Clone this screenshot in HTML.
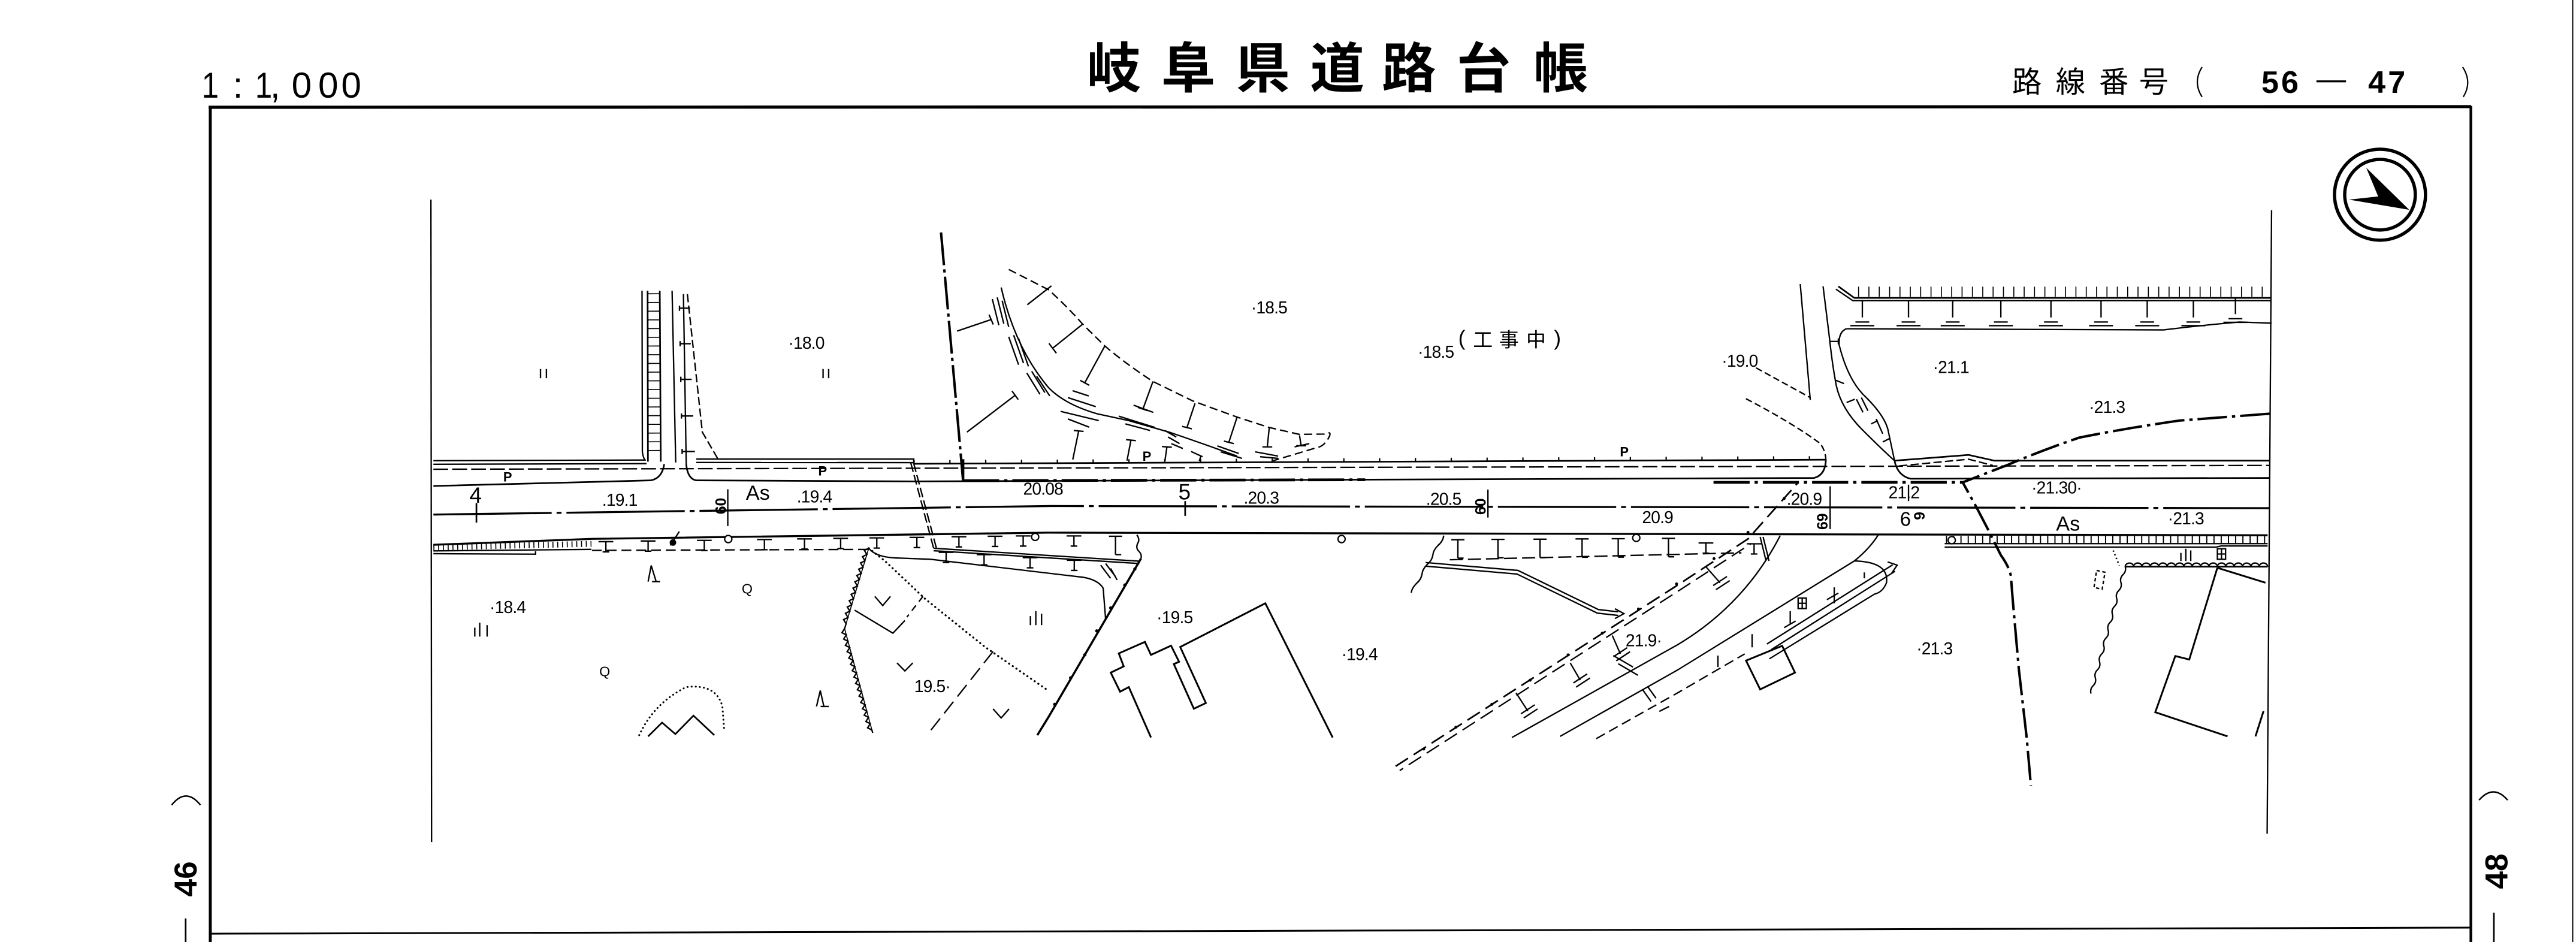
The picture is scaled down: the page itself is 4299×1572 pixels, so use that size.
<!DOCTYPE html>
<html><head><meta charset="utf-8">
<style>
html,body{margin:0;padding:0;background:#fff;}
svg{display:block;}
text{font-family:"Liberation Sans","Noto Sans CJK JP",sans-serif;fill:#000;stroke:none;}
.cjk{font-family:"Noto Sans CJK JP","Noto Sans CJK SC",sans-serif;}
</style></head><body>
<svg width="4299" height="1572" viewBox="0 0 1568 573.36" preserveAspectRatio="none" xmlns="http://www.w3.org/2000/svg">
<defs>
<path id="tk" d="M-4.5,0H4.5M0,0V6.2M-2,6.2H2"/>
<path id="tk2" d="M-4,0H4M0,0V11.2M0,11.2H3.5"/>
<path id="tk3" d="M0,0V10.2M-4.2,13H4.2M-7.3,15.2H7.3"/>
</defs>
<rect width="1568" height="573.36" fill="#fff"/>

<!-- ===== Header ===== -->
<g font-size="22">
<text x="128" y="59.5" text-anchor="middle" transform="translate(128,0) scale(0.85,1) translate(-128,0)">1</text>
<text x="144.8" y="59.5" text-anchor="middle">:</text>
<text x="160.5" y="59.5" text-anchor="middle" transform="translate(160.5,0) scale(0.85,1) translate(-160.5,0)">1</text>
<text x="167.5" y="59.5" text-anchor="middle">,</text>
<text x="183.6" y="59.5" text-anchor="middle">0</text>
<text x="199.8" y="59.5" text-anchor="middle">0</text>
<text x="213.8" y="59.5" text-anchor="middle">0</text>
</g>
<g class="cjk" font-size="33" font-weight="700" text-anchor="middle">
<text class="cjk" x="678" y="53.3">岐</text>
<text class="cjk" x="723.3" y="53.3">阜</text>
<text class="cjk" x="768.7" y="53.3">県</text>
<text class="cjk" x="814" y="53.3">道</text>
<text class="cjk" x="857.6" y="53.3">路</text>
<text class="cjk" x="903" y="53.3">台</text>
<text class="cjk" x="950.1" y="53.3">帳</text>
</g>
<g font-size="18" text-anchor="middle">
<text class="cjk" x="1233.8" y="56.2">路</text>
<text class="cjk" x="1260.3" y="56.2">線</text>
<text class="cjk" x="1286.7" y="56.2">番</text>
<text class="cjk" x="1311" y="56.2">号</text>
</g>
<text x="1376.5" y="56.5" font-size="19" font-weight="bold" letter-spacing="1.5">56</text>
<text x="1441.5" y="56.5" font-size="19" font-weight="bold" letter-spacing="1.5">47</text>

<g fill="none" stroke="#000">
<path d="M1410,49.5H1428" stroke-width="1.2"/>
<path d="M1340.4,40.8Q1334.6,50 1340.4,59" stroke-width="0.8"/>
<path d="M1499,40.8Q1505,50 1499.4,59" stroke-width="0.8"/>
<!-- frame -->
<path d="M127,65.3L1504.2,64.9" stroke-width="1.9"/>
<path d="M128,64.5V573.36" stroke-width="1.8"/>
<path d="M1504,64.5V573.36" stroke-width="1.6"/>
<path d="M128,568.3L1504,564.6" stroke-width="1.1"/>
<path d="M1566,0V573.36" stroke-width="0.7"/>
<!-- compass -->
<circle cx="1448.7" cy="118.5" r="27.7" stroke-width="2"/>
<circle cx="1448.7" cy="118.5" r="21.5" stroke-width="2"/>
<!-- side brackets -->
<path d="M104.5,490Q113.2,479 122,490" stroke-width="0.9"/>
<path d="M113,559V573.36" stroke-width="1"/>
<path d="M1509,487Q1517.7,477 1526.4,487" stroke-width="0.9"/>
<path d="M1518,555.5V573.36" stroke-width="1"/>
</g>
<polygon points="1440.3,102.1 1466.5,127.7 1429.7,121.5 1447.6,119.6" fill="#000"/>
<text transform="translate(119.7,535) rotate(-90)" text-anchor="middle" font-size="19.4" font-weight="bold">46</text>
<text transform="translate(1526.2,530.3) rotate(-90)" text-anchor="middle" font-size="19.4" font-weight="bold">48</text>

<!-- ===== Map ===== -->
<g fill="none" stroke="#000" stroke-width="0.85">
<!-- boundaries -->
<path d="M262.3,121.5L262.7,512.5"/>
<path d="M1382.7,128L1380,507.5"/>

<!-- road top -->
<path d="M263.8,280.4L392.5,280"/>
<path d="M263.8,282.6L393.5,282.2"/>
<path d="M423.8,279.4L556.2,279.4L556.2,282.3"/>
<path d="M423.8,281.5L556.2,281.6"/>
<path d="M556.2,282.3L1111.5,279.8" stroke-width="1"/>
<path d="M556,281.2L1111.5,278.7" stroke-width="2.2" stroke-dasharray="0.8 21"/>
<path d="M263.8,285.6L1381.5,283.3" stroke-dasharray="9 2.5"/>
<!-- curbs -->
<path d="M263.8,295.8L396,292.4Q403,291.2 404.3,282.5" stroke-width="1"/>
<path d="M417.7,282.5Q418.5,291.5 423.8,292.4L556.2,293L1104.3,290.9Q1111.3,289 1111.4,279.5" stroke-width="1"/>
<path d="M1153.2,280.4Q1155,289.5 1163,291.4L1381.5,290.9" stroke-width="1"/>
<path d="M1153.2,280.4L1198.3,276.9L1214,280.4L1381.5,280.4" stroke-width="1"/>
<path d="M1156,283.6L1198.3,279.5L1213,283.3" stroke-dasharray="5 2"/>
<path d="M586.2,292.6L831,292" stroke-width="1.7" stroke-dasharray="22 3 2 3"/>
<path d="M1043,293.6L1194.7,293.6" stroke-width="1.7" stroke-dasharray="22 3 2 3"/>
<path d="M586.2,279.5V292.6" stroke-width="1.6"/>
<!-- centerline -->
<path d="M263.8,313.2L640,308L1381.5,309.3" stroke-width="1.2" stroke-dasharray="72 3 3 3"/>
<!-- road bottom -->
<path d="M263.8,331.6L360.3,328L638,324.2L1183.7,325.4L1380.3,325.8" stroke-width="1.2"/>
<path d="M263.8,335.3L360,334.4"/>
<path d="M263.8,333.2L360,331" stroke-width="3.6" stroke-dasharray="0.6 2.3"/>
<path d="M263.8,337L326,337.3L326,335.5"/>
<path d="M1183.7,330.9L1380.3,330.9"/>
<path d="M1184.5,328.4L1380,328.4" stroke-width="4.6" stroke-dasharray="0.7 3.7"/>
<path d="M1183.7,333L1349,333L1352,332.3L1380.3,332.3"/>
<!-- station ticks -->
<path d="M290,306.2V318.1" stroke-width="1"/>
<path d="M721.4,305V314" stroke-width="1"/>
<path d="M443,297.8V320.2"/>
<path d="M905.7,298V315"/>
<path d="M1114,296V322"/>
<path d="M1161.7,295V305"/>

<!-- T band below road (left) -->
<path d="M360.3,335L531,334.4" stroke-dasharray="6 3"/>
<use href="#tk" x="368.8" y="329.7"/><use href="#tk" x="394.5" y="329.3"/>
<use href="#tk" x="428.7" y="328.9"/><use href="#tk" x="465.3" y="328.4"/>
<use href="#tk" x="489.7" y="328"/><use href="#tk" x="511.7" y="327.7"/>
<use href="#tk" x="533.7" y="327.4"/><use href="#tk" x="558.1" y="327.1"/>
<use href="#tk" x="583.7" y="326.7"/><use href="#tk" x="605.7" y="326.4"/>
<use href="#tk" x="622.8" y="326.2"/><use href="#tk" x="653.7" y="326.2"/>
<use href="#tk2" x="679" y="326.4"/>
<path d="M568.3,333.7L693.9,341.6"/>
<path d="M568.3,335.2L693.5,343"/>
<use href="#tk" x="575.9" y="336.2"/><use href="#tk" x="599" y="337.6"/>
<use href="#tk" x="627" y="339.4"/><use href="#tk" x="653.9" y="341"/>
<path d="M528.8,333.7Q533,339 545,339.6L566.4,340.4L659.5,351.4Q668.5,353 671.5,358L673,377"/>
<path d="M692,325.5q2,3 0.6,5q-1.5,3 0.6,5q2,2 1.3,4.5"/>
<path d="M694.5,340L638.3,436.3L631.4,447.5" stroke-width="1.3"/>
<path d="M670,344L676,352M673,343L679,351M676,346L680,353"/>
<!-- double dashed crossing -->
<path d="M554.3,281.4L568.3,333.7" stroke-dasharray="6 2"/>
<path d="M556,281.4L570,333.7" stroke-dasharray="6 2"/>

<!-- left side road -->
<path d="M390.8,177L391,275Q391.5,279 393,280.4"/>
<path d="M394.2,177L394.4,281" stroke-width="1"/>
<path d="M401.6,177L402.2,281" stroke-width="1"/>
<path d="M398,178.5L398.3,279" stroke-width="7.4" stroke-dasharray="0.6 4.7"/>
<path d="M409.1,177L411.3,281.5"/>
<path d="M416,179L417.7,282.5"/>
<path d="M418.4,179L427.5,263L437.2,279.7" stroke-dasharray="5 2"/>
<path d="M413.6,186V189.2M413.6,187.6H420M414,207.6V210.8M414,209.2H420.5M414.4,229.3V232.5M414.4,230.9H421M414.8,251.6V254.8M414.8,253.2H422M415.2,273.2V276.4M415.2,274.8H423"/>

<!-- boundary dash-dot -->
<path d="M572.8,141.5L578,200L586.2,292.3" stroke-width="1.5" stroke-dasharray="20 2.5 2 2.5"/>

<!-- slope -->
<path d="M614,164L638.3,176.4Q650,187 659,197.3L672.5,210.6Q686,222 701.8,232.2L726.2,244.1L753.1,253.9L772.6,260.2L790.9,264.4L806,264.2Q811,262 809,266Q806,272 800.7,272.7L775,280.4" stroke-dasharray="5 2.5"/>
<path d="M609.4,175Q618,212 638.3,236Q648,246 667.6,251.8L687,256L711.6,263Q735,271 753,277.6"/>
<path d="M604,182L608,198M607,181L611,197M610,183L614,199M614,205L620,222M617,204L623,221M620,206L626,223M625,227L633,240M628,226L636,239M631,229L639,241"/>
<path d="M652.9,237.8L662.7,241M650,242L667,247.5M645.6,250.4L668.8,256M650,255L663,260M681,253.3L703,260.2M685,258L700,262M690,246.6L702,251M709,262L716,266M711,266L718,270M713,270L720,273M725,274.8L732,278M741,271.4L754,276M743,275L756,279M764,275L778,277.6M767,278L778,279M788,272L797,270"/>
<path d="M659,197.3L640.7,212M638.5,209L643,215M672.5,210.6L660.3,233M657.5,231.5L663,234.5M701.8,232.2L695.7,249M692.7,248L698.7,250M727.4,245.5L722.5,260.2M719.5,259.5L725.5,261M753,253.9L748,269.2M745,268.5L751,270M772.6,260.2L771.4,272M768.4,272L774.4,272M791,265L792,271.3M789,271.3L795,271.3"/>
<path d="M582.6,201.5L603.3,194.5M602,191.5L604.6,197.5M588.6,263L617.9,240.6M616,238L619.8,243.2M625.3,185.5L640,174"/>
<path d="M653,279.7L656.6,262.3M653.6,262L659.6,262.6M686,280.4L688.4,267.9M685.4,267.6L691.4,268.2M709.1,280.4L710.3,272M707.3,271.8L713.3,272.2M730,280.6L731,277.5"/>

<!-- upper right -->
<path d="M1119,174.3L1128.7,181.3L1382.7,181.3" stroke-width="1"/>
<path d="M1117.5,176L1127.8,183L1382.7,183"/>
<path d="M1131,177.6L1380,177.6" stroke-width="6.2" stroke-dasharray="0.6 5.7"/>
<use href="#tk3" x="1133.6" y="183"/><use href="#tk3" x="1161.7" y="183"/>
<use href="#tk3" x="1188.6" y="183"/><use href="#tk3" x="1217.9" y="183"/>
<use href="#tk3" x="1248.4" y="183"/><use href="#tk3" x="1278.9" y="183"/>
<use href="#tk3" x="1307" y="183"/><use href="#tk3" x="1335.1" y="183"/>
<use href="#tk3" x="1360.7" y="181"/>
<path d="M1123.9,200.1L1316.8,200.8Q1340,198 1363.2,196L1382.7,196.7"/>
<path d="M1095.8,172.9L1101.9,243.4"/>
<path d="M1109.7,174.3L1113.5,205Q1115.3,222 1117.8,235Q1121,249 1133.6,261.6Q1146,274 1153.2,280.4"/>
<path d="M1123.9,200.1Q1119,202 1119.5,210Q1125,232 1136,242Q1148,254 1149.5,263L1153.2,280.4"/>
<path d="M1114,207.8H1119M1119,206V209.6M1117.5,231.5L1122.5,233.5M1124,245L1129,243M1130,243L1134,251M1133,242L1137,250M1139,258L1143,256M1146,269L1150,267M1142,255L1146,264"/>
<path d="M1068.9,223.9L1101.9,242" stroke-dasharray="4 2"/>
<path d="M1062.8,242.7Q1092,258 1108,270Q1111,274 1111.4,279.5" stroke-dasharray="4 2"/>
<path d="M1381.5,251.8L1326.5,256Q1292,261 1265.5,266.4Q1241,274.8 1221.5,283.2L1194.7,293.6L1203.2,309L1210.5,323L1217.9,337.9Q1223,345 1224,350.5L1225.2,365.8L1228.9,407.7L1233.7,449.6L1236.2,478.2" stroke-width="1.5" stroke-dasharray="18 3 2 3"/>

<!-- ramp -->
<path d="M849.5,466.4L1021.2,356.1L1064,328L1094.6,293.6" stroke-width="1" stroke-dasharray="9 4"/>
<path d="M852,469L1023,358.8L1066,330.8" stroke-dasharray="9 4" stroke-dashoffset="6.5"/>
<path d="M920.3,448.9L1021.2,392.4Q1062,368 1083.6,326"/>
<path d="M949.6,448.2L1021.3,407.7L1128.8,341.4Q1138,334 1143.4,325.4"/>
<path d="M971.6,449.6L1021.2,421.7L1062,398" stroke-dasharray="6 3"/>
<path d="M922.8,421.7L930,432.8M925.8,434.5L934.2,429M927.5,437L935.9,431.5M955.8,403.5L961.9,414M957.7,415.7L966.1,410.2M959.4,418.2L967.8,412.7M981.4,386.8L986.3,398M982.1,399.7L990.5,394.2M983.8,402.2L992.2,396.7M1038.4,345L1047,354.7M1042.8,356.4L1051.2,350.9M1044.5,358.9L1052.9,353.4"/>
<path d="M982,399L994,406M985,404L997,411M1000,420L1005,427M1003,418L1008,425M1010,433L1016,430"/>
<path d="M1066.5,386V394M1045.7,399V406M1116.5,357.5V367.2M1134.8,348.4V352M1089.7,372V380M1112,365L1119,361M1086,382L1093,378"/>
<path d="M867.8,342.4L924,347.2L972.9,371L985,372.4"/>
<path d="M867.8,344.6L923.4,349.4L972.3,373.2L985,374.6"/>
<path d="M983,370.5L988.5,373.5L983,376.5"/>
<path d="M878.8,326q-0.5,3.5 -3.3,5.8q-3,3 -3.3,5.8q-0.5,3.5 -3.3,5.8q-3,3 -3.3,5.8q-0.5,3.5 -3.3,5.8q-3,3 -3.3,5.8"/>
<path d="M882.5,340.7L1060,336.5" stroke-dasharray="8 3"/>
<use href="#tk2" x="887.4" y="328.5"/><use href="#tk2" x="911.8" y="328.3"/>
<use href="#tk2" x="937.4" y="328.2"/><use href="#tk2" x="963" y="328"/>
<use href="#tk2" x="985" y="327.9"/><use href="#tk2" x="1015.6" y="327.7"/>
<use href="#tk" x="1038.4" y="330.5"/><use href="#tk" x="1067.7" y="331"/>
<path d="M1128.8,341.4Q1150,342 1148.3,354.7Q1146,360.5 1141,361.6L1077,401"/>
<path d="M1075.5,392L1152,343.8"/>
<path d="M1078,395.5L1153.5,347.7"/>
<path d="M1149,342L1154.8,344L1151.5,348.8"/>
<path d="M1071.4,326.8L1075,341.4M1073.2,326.8L1076.8,341.4"/>
<polygon points="1062.8,402.1 1084.8,393.1 1092.6,409.4 1071.4,419.6" stroke-width="1.1"/>
<path d="M1094.5,364h5v6.4h-5zM1097,364v6.4M1094.5,367.2h5"/>
<path d="M1349.7,334h5v6.4h-5zM1352.2,334v6.4M1349.7,337.2h5"/>

<!-- lower right area -->
<path d="M1286.3,335.1L1290,344.2" stroke-width="1" stroke-dasharray="0.8 1.6"/>
<path d="M1293.6,344.9L1380.3,344.9" stroke-width="1"/>
<path d="M1293.6,344.9a2.55,2.2 0 0 1 5.1,0a2.55,2.2 0 0 1 5.1,0a2.55,2.2 0 0 1 5.1,0a2.55,2.2 0 0 1 5.1,0a2.55,2.2 0 0 1 5.1,0a2.55,2.2 0 0 1 5.1,0a2.55,2.2 0 0 1 5.1,0a2.55,2.2 0 0 1 5.1,0a2.55,2.2 0 0 1 5.1,0a2.55,2.2 0 0 1 5.1,0a2.55,2.2 0 0 1 5.1,0a2.55,2.2 0 0 1 5.1,0a2.55,2.2 0 0 1 5.1,0a2.55,2.2 0 0 1 5.1,0a2.55,2.2 0 0 1 5.1,0a2.55,2.2 0 0 1 5.1,0a2.55,2.2 0 0 1 5.1,0"/>
<path d="M1293.6,344.9q0.8,2.8 -1.3,4.83q-2.1,2.03 -1.3,4.83q0.8,2.8 -1.3,4.83q-2.1,2.03 -1.3,4.83q0.8,2.8 -1.3,4.83q-2.1,2.03 -1.3,4.83q0.8,2.8 -1.3,4.83q-2.1,2.03 -1.3,4.83q0.8,2.8 -1.3,4.83q-2.1,2.03 -1.3,4.83q0.8,2.8 -1.3,4.83q-2.1,2.03 -1.3,4.83q0.8,2.8 -1.3,4.83q-2.1,2.03 -1.3,4.83q0.8,2.8 -1.3,4.83q-2.1,2.03 -1.3,4.83"/>
<polygon points="1276.2,347.2 1281.3,348.3 1279.6,358.6 1274.6,357.6" stroke-dasharray="2 1.5"/>
<path d="M1349.7,345.6L1332.6,401.4L1324.1,399.3L1311.9,433.5L1355.9,448.2" stroke-width="1.1"/>
<path d="M1349.7,345.6L1379,354.7" stroke-width="1.1"/>
<path d="M1377.8,432.8L1372.9,448.2" stroke-width="1.1"/>
<path d="M1327.5,336.5V341.5M1330.5,334V341.5M1333.5,335V341.5"/>

<!-- center bottom buildings -->
<path d="M700.6,448.9L687.1,418.2L681.8,421L676.1,409.4L684,405.6L681,397.7L696.9,390.7L700.6,398.6L712.8,393L717.7,402.8L714.5,404.2L726.7,431.4L734,427.9L718.4,393.8L770.2,367.2L811.2,448.9" stroke-width="1.1"/>

<!-- left bottom area -->
<path d="M528.8,333.7l-2.68,1.28l1.53,2.55l-2.68,1.28l1.53,2.55l-2.68,1.28l1.53,2.55l-2.68,1.28l1.53,2.55l-2.68,1.28l1.53,2.55l-2.68,1.28l1.53,2.55l-2.68,1.28l1.53,2.55l-2.68,1.28l1.53,2.55l-2.68,1.28l1.53,2.55l-2.68,1.28l1.53,2.55l-2.68,1.28l1.53,2.55l-2.68,1.28l1.53,2.55L514.1,382.6l-1.6,2.5l2.64,1.36l-1.6,2.5l2.64,1.36l-1.6,2.5l2.64,1.36l-1.6,2.5l2.64,1.36l-1.6,2.5l2.64,1.36l-1.6,2.5l2.64,1.36l-1.6,2.5l2.64,1.36l-1.6,2.5l2.64,1.36l-1.6,2.5l2.64,1.36l-1.6,2.5l2.64,1.36l-1.6,2.5l2.64,1.36l-1.6,2.5l2.64,1.36l-1.6,2.5l2.64,1.36l-1.6,2.5l2.64,1.36l-1.6,2.5l2.64,1.36l-1.6,2.5l2.64,1.36L531.2,446.1"/>
<path d="M528.8,333.7L514.1,382.6L531.2,446.1" stroke-width="0.6"/>
<path d="M528.8,333.7L538.6,341.4L563,364.4L599.6,393.8L638,420.3" stroke-width="1.2" stroke-linecap="round" stroke-dasharray="0.1 2.6"/>
<path d="M604.5,396.5L564.2,447.5" stroke-dasharray="9 4"/>
<path d="M561.8,363L552,375.6" stroke-dasharray="4 3"/>
<path d="M532.5,363L537.3,368.6L542,363M520.2,371.4L543.5,385.4L550.8,377.7M546,403.5L550.8,408.4L555.6,403.5M604.5,431.5L609.4,437L614.2,431.5"/>
<path d="M394.5,448.2L403,439.8L411.1,446.8L422.1,435.6L434.8,447.5" stroke-width="1"/>
<path d="M389.1,447.5Q398,428 417.7,418.2Q436,416 439.7,430L440.9,445.4" stroke-width="1.1" stroke-linecap="round" stroke-dasharray="0.1 2.4"/>
<path d="M394.5,354L396.4,344.2L399.4,354M396.9,354H401.8M497,430L499.3,420.3L501.5,430M499.5,430H504.5"/>
<path d="M289,382V387.5M292,379V387.5M296.5,380.5V387.5M627.2,375V380.5M630.5,372V380.5M634,373.5V380.5"/>
<path d="M329,224.6V230.2M332.6,224.6V230.2M501,224.6V230.2M504.4,224.6V230.2"/>
<path d="M408,332L413.5,323.5"/>
</g>
<g fill="#000">
<circle cx="409.6" cy="330.2" r="2"/>
<circle cx="690.8" cy="346.3" r="1"/><circle cx="684.7" cy="356.1" r="1"/>
<circle cx="676.1" cy="370" r="1"/><circle cx="667.6" cy="384" r="1"/>
<circle cx="660.3" cy="398.6" r="1"/><circle cx="651.7" cy="412.6" r="1"/>
<circle cx="642" cy="428.7" r="1"/>
<circle cx="866.6" cy="455.9" r="0.9"/><circle cx="886.2" cy="442.6" r="0.9"/>
<circle cx="908.1" cy="428.7" r="0.9"/><circle cx="931.4" cy="414" r="0.9"/>
<circle cx="954.5" cy="398.6" r="0.9"/><circle cx="975.3" cy="385.4" r="0.9"/>
<circle cx="997.3" cy="370.7" r="0.9"/><circle cx="1020.5" cy="355.4" r="0.9"/>
<circle cx="1043.3" cy="340" r="0.9"/><circle cx="1064" cy="324" r="0.9"/>
<circle cx="1086" cy="303.4" r="0.9"/>
</g>
<g fill="#fff" stroke="#000" stroke-width="0.8">
<circle cx="443.3" cy="328.1" r="2.2"/>
<circle cx="630.1" cy="326.8" r="2.2"/>
<circle cx="816.6" cy="328.1" r="2.2"/>
<circle cx="996" cy="327.4" r="2.2"/>
<circle cx="1188" cy="328.8" r="2.2"/>
</g>

<!-- labels -->
<g font-size="10.3" letter-spacing="-0.3">
<text x="479.8" y="212.3">·18.0</text>
<text x="761.5" y="190.8">·18.5</text>
<text x="863" y="217.8">·18.5</text>
<text x="1048" y="223.3">·19.0</text>
<text x="1176.5" y="227">·21.1</text>
<text x="1271.5" y="251.3">·21.3</text>
<text x="1236.5" y="300.3">·21.30·</text>
<text x="1319.5" y="319.1">·21.3</text>
<text x="1087.5" y="307.3">.20.9</text>
<text x="1149.5" y="303.3">21.2</text>
<text x="999.5" y="318.5">20.9</text>
<text x="366.5" y="307.9">.19.1</text>
<text x="485" y="305.8">.19.4</text>
<text x="622.8" y="301.1">20.08</text>
<text x="757" y="306.5">.20.3</text>
<text x="868" y="307.2">.20.5</text>
<text x="298" y="373.1">·18.4</text>
<text x="556.5" y="421.3">19.5·</text>
<text x="704" y="379.3">·19.5</text>
<text x="816.5" y="401.7">·19.4</text>
<text x="989.5" y="393.3">21.9·</text>
<text x="1166.5" y="398.3">·21.3</text>
</g>
<text x="454" y="304.2" font-size="12.5">As</text>
<text x="1251.5" y="323" font-size="12.5">As</text>
<text x="289.5" y="306" font-size="13.5" text-anchor="middle">4</text>
<text x="721" y="304" font-size="13.5" text-anchor="middle">5</text>
<g font-size="8" font-weight="bold" text-anchor="middle">
<text x="309" y="293">P</text>
<text x="500.7" y="289.5">P</text>
<text x="698.1" y="280.5">P</text>
<text x="988.7" y="277.8">P</text>
</g>
<g font-size="8.5">
<text x="451.5" y="361.3">Q</text>
<text x="364.8" y="411.6">Q</text>
</g>
<g font-size="9" font-weight="bold" text-anchor="middle">
<text transform="translate(441.8,308) rotate(-90)">60</text>
<text transform="translate(904.3,308.3) rotate(-90)">60</text>
<text transform="translate(1112.5,317.4) rotate(-90)">69</text>
<text transform="translate(1171.5,314) rotate(-90)">9</text>
</g>
<text x="1156.5" y="320" font-size="12">6</text>
<text x="889.8" y="210" font-size="13" text-anchor="middle">(</text>
<g font-size="12" text-anchor="middle">
<text class="cjk" x="902.6" y="211">工</text>
<text class="cjk" x="918.5" y="211">事</text>
<text class="cjk" x="935" y="211">中</text>
</g>
<text x="948" y="210" font-size="13" text-anchor="middle">)</text>
</svg>
</body></html>
